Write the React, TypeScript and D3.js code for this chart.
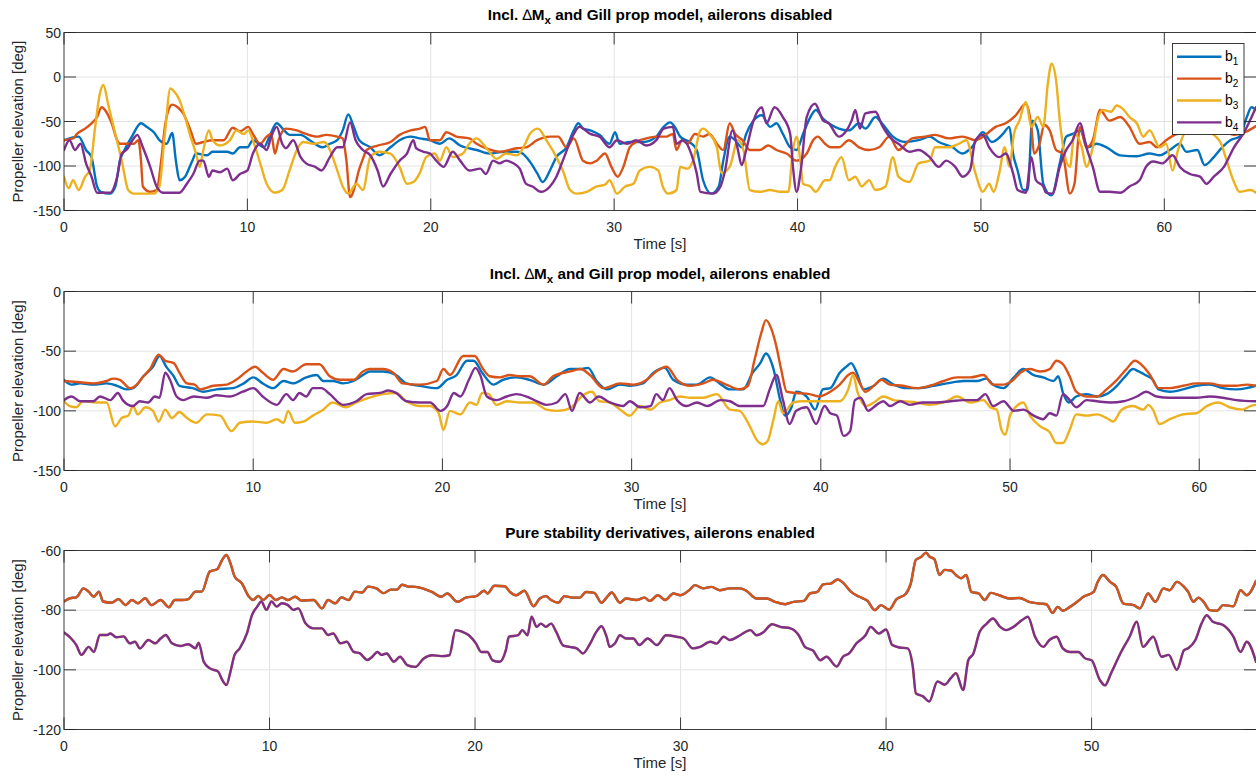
import React from 'react';
import * as d3 from 'd3';

type Pt = [number, number];

// ---- Panel 1: Incl. ΔMx and Gill prop model, ailerons disabled (time [s], elevation [deg]) ----
const p1b1: Pt[] = [[0,-71],[0.8,-67],[1.2,-82],[1.5,-90],[1.8,-123],[2.0,-129],[2.5,-131],[2.8,-123],[3.05,-94],[3.3,-82],[3.7,-67],[4.2,-52],[4.5,-56],[4.9,-62],[5.2,-71],[5.6,-75],[5.9,-63],[6.1,-94],[6.3,-116],[6.6,-112],[7.0,-94],[7.2,-86],[7.8,-88],[8.1,-84],[8.9,-84],[9.2,-86],[9.6,-79],[10,-79],[10.3,-71],[10.9,-79],[11.2,-67],[11.6,-52],[12,-60],[12.3,-65],[12.9,-65],[13.4,-71],[14.1,-79],[14.5,-75],[14.9,-71],[15.2,-60],[15.5,-42],[15.8,-56],[16.1,-71],[16.7,-79],[17.2,-88],[17.8,-79],[18.3,-71],[18.9,-67],[19.4,-69],[19.95,-71],[20.5,-75],[21.0,-69],[21.6,-77],[22.5,-82],[23.2,-86],[24.0,-84],[24.7,-84],[25.0,-86],[25.4,-95],[25.8,-108],[26.1,-118],[26.5,-105],[26.85,-90],[27.4,-79],[27.8,-60],[28.05,-52],[28.3,-58],[28.7,-60],[29.2,-65],[29.75,-75],[30.05,-62],[30.3,-75],[30.85,-73],[31.6,-73],[32.3,-67],[32.7,-56],[33.05,-51],[33.3,-56],[33.6,-67],[34.1,-73],[34.5,-82],[34.85,-116],[35.3,-131],[35.7,-123],[35.95,-94],[36.3,-67],[36.6,-71],[36.95,-79],[37.2,-64],[37.6,-49],[38.05,-43],[38.5,-56],[38.85,-52],[39.2,-64],[39.6,-79],[39.95,-82],[40.3,-64],[40.7,-45],[41.0,-37],[41.4,-47],[41.7,-52],[42.25,-58],[42.8,-60],[43.35,-52],[43.7,-58],[44.25,-45],[44.6,-52],[45.2,-67],[45.9,-73],[46.6,-71],[47.2,-67],[47.7,-73],[48.45,-79],[49.0,-86],[49.5,-79],[50.1,-62],[50.6,-73],[51.2,-64],[51.55,-56],[51.75,-86],[52.0,-105],[52.3,-127],[52.55,-127],[52.8,-49],[53.1,-60],[53.4,-120],[53.85,-133],[54.3,-97],[54.65,-67],[55.0,-64],[55.4,-60],[55.85,-79],[56.3,-75],[56.85,-79],[57.6,-88],[58.5,-89],[59.2,-86],[59.75,-88],[60.3,-82],[60.85,-75],[61.2,-84],[61.8,-82],[62.2,-99],[62.7,-90],[63.15,-79],[63.6,-71],[64.1,-67],[64.5,-45],[64.75,-34],[65,-37]];
const p1b2: Pt[] = [[0,-71],[0.5,-69],[0.7,-64],[1.15,-58],[1.5,-52],[1.8,-45],[2.05,-34],[2.3,-39],[2.6,-52],[2.9,-71],[3.05,-75],[3.8,-75],[4.05,-71],[4.2,-94],[4.3,-123],[4.7,-129],[5.05,-127],[5.3,-94],[5.5,-56],[5.7,-37],[5.9,-31],[6.2,-34],[6.5,-41],[6.9,-60],[7.2,-75],[7.6,-73],[8.1,-71],[8.7,-71],[9.2,-57],[9.6,-61],[10.05,-56],[10.3,-64],[10.7,-75],[11.05,-67],[11.3,-64],[11.5,-86],[11.7,-71],[12.1,-58],[12.7,-60],[13.2,-64],[13.8,-67],[14.3,-65],[14.9,-67],[15.2,-69],[15.4,-94],[15.6,-135],[15.9,-120],[16.05,-107],[16.3,-92],[16.5,-82],[17.1,-77],[17.8,-73],[18.3,-65],[18.9,-60],[19.4,-58],[19.7,-56],[19.95,-71],[20.5,-71],[20.85,-62],[21.4,-67],[22.1,-69],[22.5,-75],[23.0,-80],[23.75,-84],[24.7,-80],[25.2,-79],[25.8,-71],[26.5,-67],[26.95,-67],[27.4,-79],[27.8,-69],[28.3,-94],[28.7,-97],[29.05,-94],[29.5,-86],[29.85,-101],[30.2,-112],[30.5,-101],[30.85,-79],[31.2,-73],[31.75,-69],[32.3,-67],[32.85,-67],[33.2,-64],[33.4,-82],[33.7,-71],[34.0,-75],[34.4,-64],[34.85,-67],[35.2,-64],[35.6,-75],[35.95,-82],[36.3,-52],[36.6,-64],[37.0,-71],[37.4,-82],[37.95,-82],[38.4,-77],[38.85,-82],[39.4,-86],[39.95,-94],[40.5,-86],[40.85,-71],[41.1,-67],[41.5,-75],[41.8,-79],[42.25,-79],[42.8,-71],[43.35,-79],[43.9,-82],[44.45,-79],[45.0,-67],[45.5,-82],[46.25,-69],[46.95,-67],[47.5,-65],[48.25,-69],[49.0,-67],[49.7,-71],[50.3,-64],[50.8,-56],[51.35,-52],[51.9,-43],[52.45,-30],[52.75,-56],[52.9,-86],[53.2,-75],[53.45,-54],[53.75,-60],[54.1,-82],[54.45,-86],[54.85,-131],[55.1,-120],[55.4,-56],[55.75,-79],[56.1,-71],[56.5,-37],[57.0,-49],[57.6,-45],[58.1,-56],[58.65,-75],[59.2,-73],[59.6,-79],[60.1,-71],[60.7,-64],[61.5,-62],[62.3,-60],[63.0,-58],[63.8,-65],[64.4,-62],[65,-55]];
const p1b3: Pt[] = [[0,-112],[0.25,-125],[0.5,-116],[0.8,-127],[1.15,-112],[1.4,-105],[1.7,-56],[1.95,-19],[2.15,-9],[2.4,-30],[2.8,-64],[3.15,-94],[3.5,-127],[3.8,-131],[4.9,-131],[5.2,-123],[5.5,-64],[5.8,-13],[5.95,-15],[6.3,-26],[6.6,-45],[6.9,-67],[7.2,-86],[7.4,-101],[7.6,-82],[7.9,-60],[8.1,-71],[8.5,-77],[9.05,-71],[9.4,-60],[9.8,-64],[10.05,-60],[10.3,-71],[10.7,-97],[11.05,-120],[11.5,-130],[11.9,-127],[12.3,-105],[12.7,-82],[13.05,-73],[13.6,-75],[14.2,-73],[14.5,-82],[14.9,-105],[15.2,-123],[15.5,-131],[15.95,-120],[16.3,-127],[16.7,-90],[17.2,-84],[17.8,-86],[18.3,-101],[18.7,-120],[19.05,-118],[19.4,-108],[19.75,-90],[20.2,-86],[20.5,-94],[20.85,-79],[21.2,-90],[21.75,-86],[22.1,-75],[22.5,-69],[23.0,-79],[23.6,-92],[24.1,-86],[24.7,-88],[25.15,-75],[25.4,-64],[25.85,-58],[26.3,-71],[26.85,-90],[27.2,-105],[27.6,-127],[27.95,-131],[28.5,-129],[29.05,-123],[29.5,-121],[29.75,-116],[30.15,-131],[30.6,-123],[31.05,-120],[31.4,-105],[31.95,-101],[32.4,-105],[32.65,-123],[32.95,-131],[33.4,-127],[33.6,-101],[34.0,-103],[34.3,-94],[34.7,-60],[34.85,-58],[35.2,-64],[35.6,-79],[35.85,-108],[36.3,-101],[36.75,-71],[37.05,-82],[37.4,-127],[37.95,-129],[38.5,-127],[39.05,-129],[39.5,-129],[39.75,-82],[39.95,-67],[40.15,-94],[40.3,-120],[40.7,-123],[41.0,-129],[41.5,-116],[41.75,-116],[42.05,-101],[42.4,-90],[42.8,-116],[43.15,-112],[43.5,-123],[43.9,-116],[44.25,-127],[44.8,-123],[45.2,-90],[45.5,-112],[46.1,-118],[46.6,-97],[47.2,-94],[47.5,-79],[48.25,-79],[48.8,-75],[49.2,-71],[49.7,-108],[50.1,-129],[50.45,-120],[50.7,-129],[51.0,-108],[51.3,-79],[51.55,-101],[51.8,-64],[52.1,-49],[52.45,-28],[52.75,-56],[53.1,-45],[53.4,-56],[53.65,-7],[53.85,15],[54.1,-4],[54.3,-49],[54.55,-86],[54.85,-101],[55.1,-64],[55.5,-79],[55.75,-101],[56.1,-79],[56.4,-45],[56.65,-37],[57.1,-39],[57.4,-32],[57.75,-36],[58.1,-45],[58.5,-52],[58.85,-67],[59.2,-60],[59.75,-79],[60.1,-75],[60.45,-105],[60.75,-82],[61.2,-60],[61.8,-55],[62.5,-62],[63.1,-75],[63.4,-94],[63.8,-118],[64.1,-129],[64.7,-127],[65,-130]];
const p1b4: Pt[] = [[0,-82],[0.3,-71],[0.6,-82],[0.9,-75],[1.2,-97],[1.5,-112],[1.8,-130],[2.5,-130],[2.9,-112],[3.15,-86],[3.4,-82],[3.8,-69],[4.0,-65],[4.3,-79],[4.7,-101],[5.05,-123],[5.4,-130],[6.3,-130],[6.7,-120],[7.05,-109],[7.4,-94],[7.6,-94],[7.9,-112],[8.1,-105],[8.5,-107],[8.9,-103],[9.2,-116],[9.6,-109],[10.0,-105],[10.3,-86],[10.7,-75],[11.05,-82],[11.3,-67],[11.6,-56],[11.9,-75],[12.1,-80],[12.5,-71],[12.9,-90],[13.2,-97],[13.7,-101],[14.05,-105],[14.5,-90],[14.9,-79],[15.2,-79],[15.6,-51],[15.9,-71],[16.3,-82],[16.7,-88],[17.1,-105],[17.4,-123],[17.8,-109],[18.3,-94],[18.7,-86],[19.05,-71],[19.2,-80],[19.6,-84],[19.95,-86],[20.3,-94],[20.7,-101],[21.2,-84],[21.6,-94],[22.1,-105],[22.7,-103],[23.0,-109],[23.4,-94],[23.75,-97],[24.1,-94],[24.5,-97],[24.85,-103],[25.2,-120],[25.55,-123],[26.0,-129],[26.5,-123],[26.85,-112],[27.2,-94],[27.8,-64],[28.1,-56],[28.7,-64],[29.2,-67],[29.75,-79],[30.15,-71],[30.7,-75],[31.2,-71],[31.75,-77],[32.3,-71],[32.7,-58],[33.2,-56],[33.4,-75],[33.75,-71],[34.2,-86],[34.5,-108],[34.7,-129],[35.4,-131],[35.8,-123],[36.05,-105],[36.45,-60],[36.75,-82],[36.95,-99],[37.2,-82],[37.6,-49],[38.05,-34],[38.3,-52],[38.75,-34],[39.2,-45],[39.6,-64],[39.75,-101],[39.95,-129],[40.2,-101],[40.5,-45],[40.95,-30],[41.4,-49],[41.7,-52],[42.25,-67],[42.6,-62],[42.95,-49],[43.15,-37],[43.4,-58],[43.7,-41],[44.25,-39],[44.6,-54],[45.2,-71],[45.5,-75],[46.1,-84],[46.6,-82],[47.2,-90],[47.7,-101],[48.1,-94],[48.6,-101],[49.0,-112],[49.4,-105],[49.7,-71],[50.1,-65],[50.45,-79],[51.0,-90],[51.35,-86],[51.75,-108],[52.0,-127],[52.45,-130],[52.75,-90],[53.0,-116],[53.4,-123],[53.55,-130],[53.9,-131],[54.3,-101],[54.65,-82],[55.0,-71],[55.4,-52],[55.75,-79],[56.1,-101],[56.5,-129],[57.0,-129],[57.6,-130],[58.1,-123],[58.65,-116],[59.0,-101],[59.4,-95],[59.9,-97],[60.45,-88],[60.85,-101],[61.4,-109],[61.95,-112],[62.3,-120],[62.7,-112],[63.25,-101],[63.8,-79],[64.3,-64],[65,-34]];

// ---- Panel 2: Incl. ΔMx and Gill prop model, ailerons enabled ----
const p2b1: Pt[] = [[0,-74],[0.4,-78],[0.85,-77],[1.55,-78],[2.25,-77],[2.8,-79],[3.3,-82],[3.65,-81],[4.2,-71],[4.7,-63],[5.05,-54],[5.4,-63],[5.8,-71],[6.1,-79],[6.8,-81],[7.35,-84],[8.05,-82],[8.95,-81],[9.5,-77],[10.0,-72],[10.5,-77],[11.05,-81],[11.6,-75],[12.1,-77],[12.8,-72],[13.35,-70],[13.7,-75],[14.2,-75],[14.75,-77],[15.3,-75],[15.8,-70],[16.15,-67],[16.85,-67],[17.55,-70],[18.1,-77],[18.8,-79],[19.7,-81],[20.25,-74],[20.75,-70],[21.3,-58],[21.65,-58],[22.1,-68],[22.7,-78],[23.2,-74],[23.9,-72],[24.6,-74],[25.35,-78],[26.05,-71],[26.75,-65],[27.3,-65],[27.7,-64],[28.15,-75],[28.7,-82],[29.4,-78],[29.9,-79],[30.6,-77],[31.15,-68],[31.75,-64],[32.2,-74],[32.9,-78],[33.45,-78],[34.15,-72],[34.65,-77],[35.2,-82],[35.9,-82],[36.4,-68],[36.8,-60],[37.1,-52],[37.5,-65],[37.85,-91],[38.1,-104],[38.45,-97],[38.7,-84],[39.25,-88],[39.7,-99],[40.1,-82],[40.5,-81],[41.0,-68],[41.35,-63],[41.6,-60],[41.9,-68],[42.25,-82],[42.8,-79],[43.3,-73],[43.85,-78],[44.55,-81],[45.25,-81],[45.95,-79],[46.65,-77],[47.55,-75],[48.25,-75],[48.75,-73],[49.1,-78],[49.65,-81],[50.2,-72],[50.7,-65],[51.25,-70],[51.75,-72],[52.3,-75],[52.55,-71],[52.8,-85],[53.1,-93],[53.5,-88],[54.05,-86],[54.6,-88],[55.1,-86],[55.65,-79],[56.15,-70],[56.5,-65],[56.8,-67],[57.15,-70],[57.55,-74],[57.85,-82],[58.45,-84],[59.15,-82],[59.85,-79],[60.55,-78],[61.25,-81],[61.95,-82],[62.5,-81],[63,-79]];
const p2b2: Pt[] = [[0,-75],[0.85,-76],[1.55,-77],[2.25,-75],[2.6,-73],[2.95,-74],[3.5,-81],[3.85,-78],[4.2,-71],[4.55,-65],[5.0,-53],[5.35,-58],[5.8,-60],[6.1,-68],[6.5,-77],[6.9,-78],[7.2,-82],[7.9,-79],[8.6,-78],[9.1,-74],[9.65,-67],[10.1,-63],[10.5,-68],[11.05,-74],[11.6,-65],[12.1,-67],[12.8,-61],[13.5,-61],[14.05,-71],[14.6,-74],[15.3,-74],[15.8,-67],[16.15,-65],[16.85,-65],[17.4,-68],[17.9,-77],[18.8,-78],[19.7,-75],[20.05,-65],[20.4,-70],[21.1,-54],[21.7,-54],[22.15,-65],[22.5,-71],[23.05,-72],[23.55,-70],[24.1,-71],[24.6,-71],[25.35,-78],[25.85,-71],[26.75,-67],[27.3,-65],[27.8,-70],[28.5,-81],[29.4,-77],[30.1,-78],[30.8,-74],[31.3,-67],[31.85,-63],[32.4,-74],[33.1,-79],[33.8,-77],[34.3,-74],[35.0,-78],[35.7,-82],[36.15,-79],[36.5,-57],[36.85,-35],[37.1,-24],[37.4,-32],[37.65,-46],[37.9,-65],[38.2,-84],[38.7,-85],[39.4,-86],[39.9,-88],[40.5,-84],[41.0,-78],[41.45,-70],[41.7,-68],[42.1,-78],[42.35,-84],[42.8,-79],[43.2,-74],[43.65,-78],[44.35,-79],[45.05,-81],[45.75,-79],[46.5,-75],[47.2,-72],[47.9,-72],[48.6,-70],[49.1,-78],[49.65,-78],[50.1,-75],[50.55,-68],[51.05,-65],[51.6,-67],[52.1,-65],[52.45,-58],[52.8,-61],[53.15,-71],[53.5,-84],[54.05,-88],[54.6,-88],[55.1,-82],[55.65,-74],[56.15,-65],[56.6,-58],[57.05,-63],[57.4,-70],[57.85,-81],[58.45,-81],[59.15,-79],[59.85,-77],[60.55,-77],[61.25,-79],[61.95,-79],[62.5,-78],[63,-79]];
const p2b3: Pt[] = [[0,-92],[0.3,-96],[0.65,-97],[1.0,-92],[1.7,-93],[2.25,-93],[2.7,-113],[3.05,-106],[3.4,-104],[3.65,-96],[3.9,-103],[4.3,-97],[4.7,-100],[5.0,-109],[5.35,-99],[5.7,-106],[6.1,-101],[6.5,-106],[7.0,-110],[7.55,-103],[8.25,-104],[8.85,-117],[9.3,-110],[10.0,-109],[10.7,-110],[11.25,-107],[11.6,-110],[11.85,-100],[12.2,-110],[12.65,-109],[13.15,-104],[13.7,-99],[14.2,-93],[14.9,-97],[15.45,-93],[16.15,-89],[16.85,-86],[17.55,-85],[18.1,-92],[18.8,-96],[19.35,-96],[19.8,-102],[20.05,-116],[20.4,-100],[20.95,-103],[21.45,-93],[21.8,-95],[22.1,-85],[22.45,-86],[22.85,-95],[23.4,-92],[24.1,-93],[24.8,-93],[25.5,-99],[26.05,-100],[26.55,-99],[26.9,-96],[27.35,-88],[27.9,-84],[28.3,-92],[28.85,-93],[29.4,-99],[29.9,-104],[30.45,-96],[31.0,-99],[31.5,-93],[32.0,-91],[32.55,-88],[33.1,-89],[33.8,-89],[34.5,-86],[35.2,-99],[35.7,-100],[36.25,-113],[36.6,-124],[36.95,-128],[37.2,-125],[37.5,-107],[37.75,-92],[38.0,-102],[38.55,-93],[39.05,-92],[39.75,-92],[40.5,-92],[41.0,-92],[41.45,-82],[41.7,-70],[41.95,-85],[42.4,-96],[42.8,-93],[43.3,-88],[43.85,-91],[44.35,-92],[45.05,-93],[45.75,-95],[46.5,-93],[47.2,-88],[47.9,-93],[48.6,-91],[48.95,-97],[49.3,-99],[49.55,-116],[49.75,-120],[50.0,-104],[50.35,-96],[50.7,-93],[51.05,-104],[51.6,-113],[52.1,-118],[52.45,-127],[52.8,-127],[53.15,-116],[53.5,-103],[54.05,-104],[54.6,-103],[55.1,-106],[55.45,-109],[55.9,-99],[56.5,-96],[57.05,-99],[57.3,-95],[57.55,-99],[57.9,-111],[58.45,-107],[59.15,-103],[59.85,-102],[60.4,-96],[61.0,-93],[61.6,-97],[62.3,-99],[62.7,-96],[63,-95]];
const p2b4: Pt[] = [[0,-91],[0.4,-88],[0.85,-92],[1.55,-92],[1.9,-88],[2.45,-91],[2.85,-85],[3.1,-91],[3.65,-96],[4.0,-92],[4.45,-93],[4.8,-88],[5.05,-89],[5.35,-68],[5.6,-74],[5.95,-88],[6.3,-91],[6.85,-88],[7.55,-89],[8.05,-87],[8.75,-88],[9.45,-84],[10.0,-81],[10.5,-88],[11.25,-95],[11.75,-86],[12.1,-91],[12.45,-85],[12.8,-88],[13.15,-81],[13.6,-81],[14.05,-86],[14.75,-95],[15.45,-92],[16.0,-86],[16.7,-85],[17.15,-83],[17.55,-85],[18.1,-92],[18.8,-93],[19.35,-93],[19.9,-100],[20.25,-96],[20.6,-85],[20.95,-88],[21.4,-74],[21.75,-64],[22.0,-70],[22.35,-88],[22.85,-91],[23.4,-88],[23.9,-86],[24.45,-88],[25.0,-92],[25.5,-95],[26.05,-93],[26.5,-86],[26.85,-100],[27.25,-85],[27.8,-93],[28.25,-88],[28.85,-93],[29.55,-96],[29.9,-92],[30.45,-97],[31.0,-96],[31.3,-86],[31.65,-91],[32.0,-81],[32.4,-91],[32.9,-96],[33.45,-93],[34.0,-96],[34.7,-91],[35.2,-92],[35.7,-96],[36.4,-96],[36.95,-96],[37.3,-82],[37.65,-70],[38.0,-91],[38.35,-111],[38.7,-100],[39.25,-97],[39.75,-111],[40.2,-96],[40.5,-102],[40.85,-104],[41.2,-121],[41.55,-117],[41.8,-91],[42.1,-89],[42.5,-100],[42.95,-95],[43.3,-92],[43.65,-96],[44.2,-92],[44.7,-95],[45.4,-93],[46.1,-93],[46.85,-92],[47.55,-91],[48.25,-91],[48.7,-86],[49.1,-96],[49.65,-92],[50.2,-100],[50.7,-99],[51.25,-104],[51.75,-107],[52.1,-102],[52.45,-104],[52.8,-86],[53.15,-91],[53.5,-97],[54.05,-91],[54.6,-92],[55.3,-93],[56.0,-92],[56.7,-88],[57.2,-84],[57.75,-88],[58.45,-89],[59.15,-89],[59.85,-89],[60.55,-88],[61.25,-89],[61.95,-91],[63,-92]];

// ---- Panel 3: Pure stability derivatives, ailerons enabled ----
// b1 and b2 coincide; b3 and b4 coincide.
const p3Upper: Pt[] = [[0,-77.1],[0.3,-76],[0.6,-75.7],[0.95,-72.7],[1.2,-73.8],[1.45,-75.5],[1.7,-73.8],[1.9,-77.1],[2.3,-77.5],[2.65,-76.3],[3.0,-78.3],[3.3,-76.6],[3.6,-77.7],[3.95,-76],[4.25,-78.3],[4.7,-76.6],[5.1,-79],[5.4,-76.6],[5.75,-76.6],[6.05,-76.3],[6.4,-73.8],[6.7,-73.8],[7.1,-67],[7.45,-66.3],[7.7,-63.1],[7.9,-61.5],[8.1,-64.3],[8.3,-68.7],[8.65,-71],[9.0,-75.5],[9.2,-76.6],[9.45,-75.2],[9.7,-76.6],[10.0,-74.9],[10.3,-76.6],[10.6,-75.7],[10.9,-76.6],[11.25,-75.5],[11.55,-76.8],[12.15,-76.6],[12.55,-79.4],[12.85,-76.6],[13.2,-77.7],[13.5,-75.7],[13.85,-76.6],[14.15,-73.8],[14.5,-74.1],[14.8,-72.1],[15.2,-72.7],[15.55,-74.3],[15.9,-73.1],[16.2,-73.1],[16.45,-71.5],[16.75,-72.1],[17.1,-72.2],[17.45,-72.7],[17.9,-73.9],[18.35,-75.5],[18.65,-74.4],[19.15,-77.2],[19.55,-75.8],[20.05,-75.3],[20.45,-73.5],[20.6,-74.4],[20.95,-71.8],[21.45,-72],[21.7,-73.9],[22.0,-75],[22.4,-73.5],[22.85,-78.7],[23.15,-76.1],[23.45,-75.3],[23.7,-76.6],[24.05,-77.5],[24.35,-75.3],[24.75,-75.8],[25.1,-75.8],[25.4,-73.9],[25.8,-74.2],[26.15,-77.5],[26.4,-75.8],[26.65,-74.1],[27.05,-77.5],[27.35,-76.1],[27.85,-76.6],[28.25,-75.8],[28.5,-76.9],[28.9,-75],[29.25,-76.6],[29.65,-74.4],[30.0,-75],[30.45,-73.1],[30.7,-71.6],[31.1,-72.7],[31.5,-72.2],[31.9,-73.3],[32.4,-72.7],[32.9,-72.7],[33.2,-73.5],[33.7,-76.1],[34.2,-76.1],[34.6,-77.2],[35.1,-78],[35.5,-77.2],[36.0,-76.9],[36.3,-74.4],[36.65,-73.9],[36.95,-71.3],[37.3,-71.1],[37.65,-69.7],[37.95,-71.1],[38.3,-73.9],[38.7,-75.5],[39.1,-76.9],[39.45,-80],[39.75,-78.3],[40.15,-79.8],[40.5,-76.4],[40.95,-74.6],[41.2,-71.1],[41.45,-63.1],[41.7,-62.2],[41.95,-60.7],[42.1,-62],[42.35,-62.9],[42.6,-68.2],[42.85,-66.5],[43.15,-66.7],[43.4,-68.2],[43.65,-69.3],[43.9,-68.2],[44.15,-73.9],[44.5,-74.4],[44.8,-76.6],[45.1,-74.2],[45.5,-75],[46.0,-76.1],[46.5,-75.9],[46.95,-77.2],[47.5,-77.8],[47.8,-78],[48.1,-80.9],[48.35,-78.9],[48.6,-80.2],[48.95,-78.9],[49.3,-77.2],[49.6,-75.5],[50.1,-73.9],[50.3,-70.5],[50.55,-68.2],[50.9,-70.5],[51.2,-72.2],[51.55,-77.8],[52.05,-78.3],[52.35,-79.4],[52.75,-74.4],[53.1,-77.2],[53.5,-72.7],[53.8,-73.3],[54.15,-70.5],[54.5,-72.2],[54.7,-73.9],[54.95,-77.2],[55.2,-75.8],[55.45,-77.2],[55.75,-80],[56.1,-80.2],[56.4,-78.3],[56.9,-78.7],[57.25,-73.3],[57.55,-75],[58,-70.2]];
const p3Lower: Pt[] = [[0,-87.5],[0.35,-89.5],[0.6,-91.7],[0.85,-95],[1.2,-92.3],[1.45,-94],[1.75,-88.3],[2.1,-88.3],[2.25,-87.8],[2.55,-89.1],[2.9,-88.8],[3.2,-91.1],[3.45,-90.6],[3.7,-92.8],[4.1,-90],[4.45,-91.1],[4.7,-89.5],[4.95,-88.3],[5.25,-91.1],[5.65,-92],[6.05,-91.4],[6.4,-92.8],[6.55,-90.9],[6.8,-97.3],[7.1,-99.5],[7.5,-100.6],[7.7,-103.4],[7.9,-105.1],[8.1,-100.6],[8.3,-95],[8.55,-92.8],[8.9,-87.8],[9.15,-81.6],[9.4,-78.8],[9.6,-77.1],[9.85,-79.9],[10.1,-77.1],[10.35,-78.8],[10.6,-77.7],[10.9,-78.3],[11.15,-79.9],[11.4,-79.4],[11.75,-84.4],[12.15,-86.1],[12.55,-86.1],[12.85,-88.3],[13.1,-87.8],[13.45,-91.1],[13.75,-90.6],[14.1,-94],[14.4,-94.5],[14.75,-96.7],[15.0,-95.6],[15.25,-94],[15.45,-95],[15.7,-94.5],[16.05,-97.3],[16.35,-95.6],[16.7,-98.4],[17.1,-99],[17.5,-96.2],[17.9,-95.1],[18.35,-95.4],[18.75,-95.1],[19.05,-86.7],[19.4,-87.3],[19.7,-88.4],[20.05,-91.2],[20.3,-94],[20.6,-94],[20.85,-96.8],[21.2,-97.3],[21.5,-93.4],[21.65,-88.9],[22.1,-88.4],[22.3,-86.7],[22.55,-88.4],[22.75,-82.2],[23.0,-85.6],[23.2,-84.5],[23.45,-85.6],[23.7,-84.5],[23.95,-87.3],[24.3,-91.9],[24.6,-92.3],[24.95,-92.8],[25.25,-94.5],[25.6,-91.2],[25.9,-87.3],[26.15,-85.4],[26.4,-88.9],[26.55,-92.3],[26.8,-91.2],[27.05,-88.4],[27.35,-89.5],[27.7,-89.5],[28.0,-91.7],[28.4,-89.5],[28.85,-91.7],[29.3,-88.4],[29.8,-88.9],[30.15,-89.5],[30.6,-92.8],[30.95,-92.3],[31.45,-90.6],[31.75,-91.2],[32.1,-88.9],[32.4,-90],[32.9,-88.4],[33.4,-86.7],[33.7,-88.4],[34.05,-87.3],[34.45,-84.7],[34.85,-85.6],[35.35,-86.1],[35.75,-88.4],[36.05,-92.3],[36.45,-93.6],[36.8,-96.8],[37.1,-95.6],[37.6,-98.9],[37.9,-95.6],[38.2,-94.5],[38.55,-91.2],[39.0,-88.4],[39.25,-85.6],[39.65,-87.8],[40.0,-86.5],[40.3,-91.7],[40.65,-92.5],[41.05,-92.8],[41.3,-98.9],[41.45,-107.9],[41.8,-108.9],[42.1,-110.6],[42.5,-103.9],[42.85,-105],[43.15,-102.8],[43.4,-101.1],[43.75,-106.8],[44.0,-96.8],[44.25,-94.5],[44.55,-87.3],[44.9,-84.5],[45.2,-82.8],[45.55,-85.6],[45.85,-86.7],[46.2,-85.6],[46.6,-83.4],[46.9,-82.2],[47.25,-88.9],[47.65,-92.3],[47.95,-90],[48.3,-88.9],[48.6,-92.8],[48.95,-94],[49.35,-94],[49.7,-96.2],[50.0,-96.8],[50.4,-103.4],[50.65,-105.2],[50.95,-101.1],[51.4,-94.5],[51.85,-88.9],[52.2,-83.9],[52.5,-92.3],[53.0,-88.9],[53.4,-95.6],[53.75,-95],[54.15,-100],[54.5,-93.4],[54.7,-92.8],[55.05,-90],[55.35,-84.5],[55.6,-81.7],[55.9,-83.9],[56.4,-85],[56.9,-88.9],[57.25,-94],[57.55,-90.6],[58,-97.3]];

// ---- Axis ticks and labels ----
const p1YTicks = [50, 0, -50, -100, -150];
const p2YTicks = [0, -50, -100, -150];
const p3YTicks = [-60, -80, -100, -120];
const xTicksLong = [0, 10, 20, 30, 40, 50, 60];
const xTicksShort = [0, 10, 20, 30, 40, 50];
const seriesNames = ['b', 'b', 'b', 'b'];
const seriesIdx = ['1', '2', '3', '4'];
const COLORS = ['#0072BD', '#D95319', '#EDB120', '#7E2F8E'];

const FONT = '"Liberation Sans", Arial, Helvetica, sans-serif';
const AX = '#262626';
const GRID = '#e3e3e3';
const LEFT = 64;
const RIGHT = 1256;
const TICK = 12;
const LINE_W = 2.4;

type PanelCfg = {
  key: string;
  top: number;
  bottom: number;
  xMax: number;
  yDomain: [number, number];
  yTicks: number[];
  xTicks: number[];
  series: Pt[][];
  title: 'dmx-disabled' | 'dmx-enabled' | 'pure';
  legend: boolean;
};

const panels: PanelCfg[] = [
  { key: 'p1', top: 32.5, bottom: 210.5, xMax: 65, yDomain: [-150, 50], yTicks: p1YTicks, xTicks: xTicksLong,
    series: [p1b1, p1b2, p1b3, p1b4], title: 'dmx-disabled', legend: true },
  { key: 'p2', top: 291.5, bottom: 470.5, xMax: 63, yDomain: [-150, 0], yTicks: p2YTicks, xTicks: xTicksLong,
    series: [p2b1, p2b2, p2b3, p2b4], title: 'dmx-enabled', legend: false },
  { key: 'p3', top: 550.5, bottom: 729.5, xMax: 58, yDomain: [-120, -60], yTicks: p3YTicks, xTicks: xTicksShort,
    series: [p3Upper, p3Upper, p3Lower, p3Lower], title: 'pure', legend: false },
];

function Title({ kind, x, y }: { kind: PanelCfg['title']; x: number; y: number }) {
  const common = { x, y, textAnchor: 'middle' as const, fontFamily: FONT, fontSize: 15.3, fontWeight: 700, fill: '#000' };
  if (kind === 'pure') {
    return <text {...common}>Pure stability derivatives, ailerons enabled</text>;
  }
  const tail = kind === 'dmx-disabled' ? ' and Gill prop model, ailerons disabled' : ' and Gill prop model, ailerons enabled';
  return (
    <text {...common}>
      Incl. <tspan fontWeight={400}>∆</tspan>M
      <tspan dy={4} fontSize={11.5}>x</tspan>
      <tspan dy={-4}>{tail}</tspan>
    </text>
  );
}

function Panel({ cfg }: { cfg: PanelCfg }) {
  const x = d3.scaleLinear().domain([0, cfg.xMax]).range([LEFT, RIGHT]);
  const y = d3.scaleLinear().domain(cfg.yDomain).range([cfg.bottom, cfg.top]);
  const line = d3.line<Pt>().x((d) => x(d[0])).y((d) => y(d[1])).curve(d3.curveMonotoneX);
  const clipId = `clip-${cfg.key}`;
  const cx = (LEFT + RIGHT) / 2;
  const cy = (cfg.top + cfg.bottom) / 2;

  return (
    <g>
      <defs>
        <clipPath id={clipId}>
          <rect x={LEFT} y={cfg.top} width={RIGHT - LEFT} height={cfg.bottom - cfg.top} />
        </clipPath>
      </defs>
      {/* grid */}
      {cfg.xTicks.filter((t) => t > 0).map((t) => (
        <line key={`gx${t}`} x1={x(t)} x2={x(t)} y1={cfg.top} y2={cfg.bottom} stroke={GRID} strokeWidth={1} />
      ))}
      {cfg.yTicks.filter((t) => t !== cfg.yDomain[0] && t !== cfg.yDomain[1]).map((t) => (
        <line key={`gy${t}`} x1={LEFT} x2={RIGHT} y1={y(t)} y2={y(t)} stroke={GRID} strokeWidth={1} />
      ))}
      {/* data */}
      <g clipPath={`url(#${clipId})`}>
        {cfg.series.map((s, i) => (
          <path key={i} d={line(s) ?? ''} fill="none" stroke={COLORS[i]} strokeWidth={LINE_W} strokeLinejoin="round" strokeLinecap="round" />
        ))}
      </g>
      {/* box */}
      <rect x={LEFT} y={cfg.top} width={RIGHT - LEFT + 0.5} height={cfg.bottom - cfg.top} fill="none" stroke={AX} strokeWidth={0.9} />
      {/* ticks */}
      {cfg.xTicks.map((t) => (
        <g key={`tx${t}`}>
          <line x1={x(t)} x2={x(t)} y1={cfg.bottom} y2={cfg.bottom - TICK} stroke={AX} strokeWidth={0.9} />
          <line x1={x(t)} x2={x(t)} y1={cfg.top} y2={cfg.top + TICK} stroke={AX} strokeWidth={0.9} />
          <text x={x(t)} y={cfg.bottom + 21} textAnchor="middle" fontFamily={FONT} fontSize={14} fill={AX}>{t}</text>
        </g>
      ))}
      {cfg.yTicks.map((t) => (
        <g key={`ty${t}`}>
          <line x1={LEFT} x2={LEFT + TICK} y1={y(t)} y2={y(t)} stroke={AX} strokeWidth={0.9} />
          <line x1={RIGHT} x2={RIGHT - TICK} y1={y(t)} y2={y(t)} stroke={AX} strokeWidth={0.9} />
          <text x={LEFT - 3} y={y(t) + 5} textAnchor="end" fontFamily={FONT} fontSize={14} fill={AX}>{t}</text>
        </g>
      ))}
      {/* labels */}
      <text x={cx} y={cfg.bottom + 38} textAnchor="middle" fontFamily={FONT} fontSize={15} fill={AX}>Time [s]</text>
      <text transform={`translate(23,${cy}) rotate(-90)`} textAnchor="middle" fontFamily={FONT} fontSize={15} fill={AX}>
        Propeller elevation [deg]
      </text>
      <Title kind={cfg.title} x={cx} y={cfg.top - 12.3} />
      {cfg.legend && <Legend />}
    </g>
  );
}

function Legend() {
  const x0 = 1172.5, y0 = 43.5, w = 71.5, h = 91;
  const rowY = (i: number) => 56.7 + i * 21.9;
  return (
    <g>
      <rect x={x0} y={y0} width={w} height={h} fill="#fff" stroke={AX} strokeWidth={0.9} />
      {COLORS.map((c, i) => (
        <g key={i}>
          <line x1={1177} x2={1221.5} y1={rowY(i)} y2={rowY(i)} stroke={c} strokeWidth={LINE_W} />
          <text x={1225} y={rowY(i) + 4.5} fontFamily={FONT} fontSize={14} fill="#000">
            {seriesNames[i]}
            <tspan dy={4} fontSize={10}>{seriesIdx[i]}</tspan>
          </text>
        </g>
      ))}
    </g>
  );
}

export default function App() {
  return (
    <div style={{ position: 'absolute', left: 0, top: 0, width: 1256, height: 775, background: '#fff', overflow: 'hidden' }}>
      <svg width={1256} height={775} viewBox="0 0 1256 775" style={{ display: 'block' }}>
        <rect x={0} y={0} width={1256} height={775} fill="#fff" />
        {panels.map((p) => (
          <Panel key={p.key} cfg={p} />
        ))}
      </svg>
    </div>
  );
}
